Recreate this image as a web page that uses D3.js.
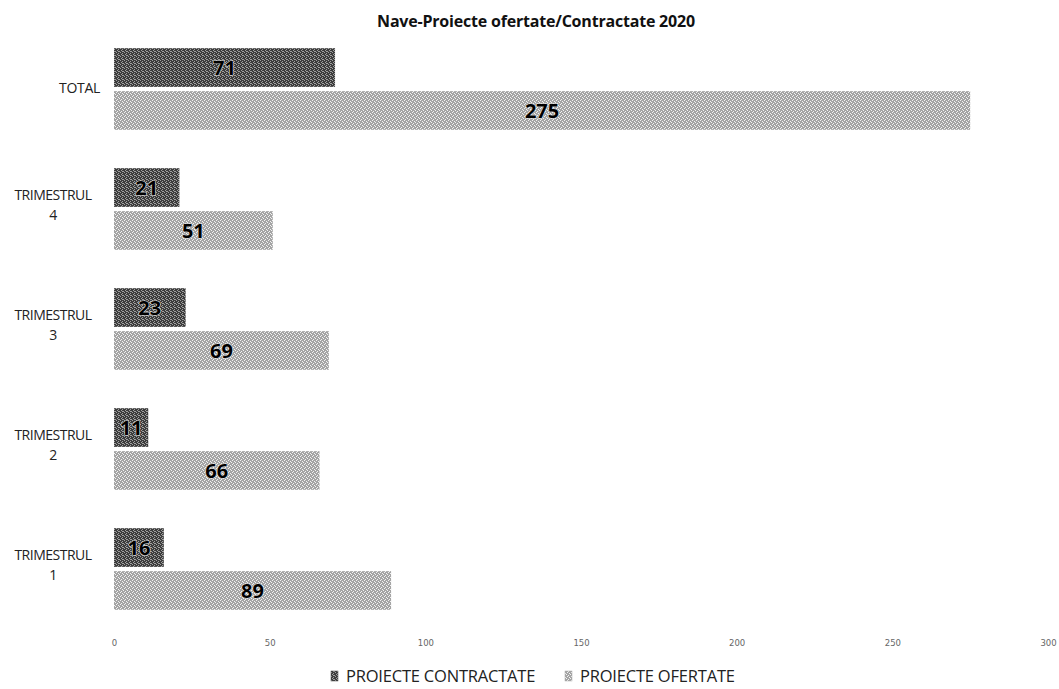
<!DOCTYPE html>
<html>
<head>
<meta charset="utf-8">
<script src="https://cdn.jsdelivr.net/npm/d3@7"></script>
<style>
  html, body { margin: 0; padding: 0; background: #fff; }
  svg { display: block; }
</style>
</head>
<body>
<svg id="chart" width="1059" height="689"></svg>
<script>
// Categories, top to bottom
const categories = ["TOTAL", "TRIMESTRUL 4", "TRIMESTRUL 3", "TRIMESTRUL 2", "TRIMESTRUL 1"];
const categoryLines = [["TOTAL"], ["TRIMESTRUL", "4"], ["TRIMESTRUL", "3"], ["TRIMESTRUL", "2"], ["TRIMESTRUL", "1"]];
const seriesNames = ["PROIECTE CONTRACTATE", "PROIECTE OFERTATE"];
const contractate = [71, 21, 23, 11, 16];
const ofertate = [275, 51, 69, 66, 89];
const xTicks = [0, 50, 100, 150, 200, 250, 300];
const title = "Nave-Proiecte ofertate/Contractate 2020";

const svg = d3.select("#chart");

// Dithered fills for the two series
const defs = svg.append("defs");
function dither(id, base, spots, spotColor) {
  const p = defs.append("pattern").attr("id", id)
    .attr("patternUnits", "userSpaceOnUse").attr("width", 4).attr("height", 4);
  p.append("rect").attr("width", 4).attr("height", 4).attr("fill", base);
  spots.forEach(([x, y]) => p.append("rect").attr("x", x).attr("y", y)
    .attr("width", 1).attr("height", 1).attr("fill", spotColor));
}
dither("fillDark", "#3c3c3c", [[0,0],[2,1],[1,2],[3,3],[2,3]], "#a0a0a0");
dither("fillLight", "#a4a4a4", [[0,0],[2,1],[1,3],[3,2]], "#f2f2f2");
const fills = ["url(#fillDark)", "url(#fillLight)"];
const swatch = ["#444", "#aaa"];

const x = d3.scaleLinear().domain([0, 300]).range([114, 1048]);
const y = d3.scaleBand().domain(categories).range([29, 629])
  .paddingInner(0.32).paddingOuter(0.16);
const ySub = d3.scaleBand().domain([0, 1]).range([0, y.bandwidth()]).paddingInner(0.1);

const rows = categories.map((c, i) => ({ cat: c, lines: categoryLines[i], vals: [contractate[i], ofertate[i]] }));

// Title
svg.append("text").attr("x", 536).attr("y", 27).attr("text-anchor", "middle")
  .attr("font-family", "Open Sans, sans-serif").attr("font-weight", "bold")
  .attr("font-size", 16).attr("letter-spacing", -0.2).attr("fill", "#111").text(title);

// Bars
const g = svg.append("g");
rows.forEach(r => {
  r.vals.forEach((v, k) => {
    const top = y(r.cat) + ySub(k);
    g.append("rect").attr("x", x(0)).attr("y", top)
      .attr("width", x(v) - x(0)).attr("height", ySub.bandwidth())
      .attr("fill", fills[k]);
    g.append("text").attr("x", (x(0) + x(v)) / 2).attr("y", top + ySub.bandwidth() / 2)
      .attr("dy", "0.36em").attr("text-anchor", "middle")
      .attr("font-family", "Open Sans, sans-serif").attr("font-weight", "bold")
      .attr("font-size", 20).attr("fill", "#000")
      .attr("stroke", "#e0e0e0").attr("stroke-width", 1.2).attr("paint-order", "stroke")
      .text(v);
  });
});

// Category labels
rows.forEach(r => {
  const cy = y(r.cat) + y.bandwidth() / 2;
  if (r.lines.length === 1) {
    svg.append("text").attr("x", 100).attr("y", cy - 1).attr("dy", "0.35em")
      .attr("text-anchor", "end").attr("font-family", "Open Sans, sans-serif")
      .attr("font-size", 14).attr("letter-spacing", -0.3).attr("fill", "#222").text(r.lines[0]);
  } else {
    r.lines.forEach((t, j) => {
      svg.append("text").attr("x", 53).attr("y", cy - 14 + j * 20).attr("dy", "0.35em")
        .attr("text-anchor", "middle").attr("font-family", "Open Sans, sans-serif")
        .attr("font-size", 14).attr("letter-spacing", -0.5).attr("fill", "#222").text(t);
    });
  }
});

// Value axis (no line or ticks, faint labels)
const axis = svg.append("g").attr("transform", "translate(0,640)")
  .call(d3.axisBottom(x).tickValues(xTicks).tickSize(0).tickPadding(0));
axis.select(".domain").remove();
axis.selectAll("text").attr("font-family", "DejaVu Sans, sans-serif")
  .attr("font-size", 8.5).attr("fill", "#666");

// Legend
const legend = svg.append("g").attr("transform", "translate(331,676)");
const legX = [0, 234];
seriesNames.forEach((n, k) => {
  legend.append("rect").attr("x", legX[k]).attr("y", -5).attr("width", 7).attr("height", 10)
    .attr("fill", fills[k]).attr("stroke", swatch[k]).attr("stroke-width", 0.5);
  legend.append("text").attr("x", legX[k] + 15).attr("y", 0).attr("dy", "0.35em")
    .attr("font-family", "Open Sans, sans-serif").attr("font-size", 16.5)
    .attr("letter-spacing", -0.2).attr("fill", "#222").text(n);
});
</script>
</body>
</html>
